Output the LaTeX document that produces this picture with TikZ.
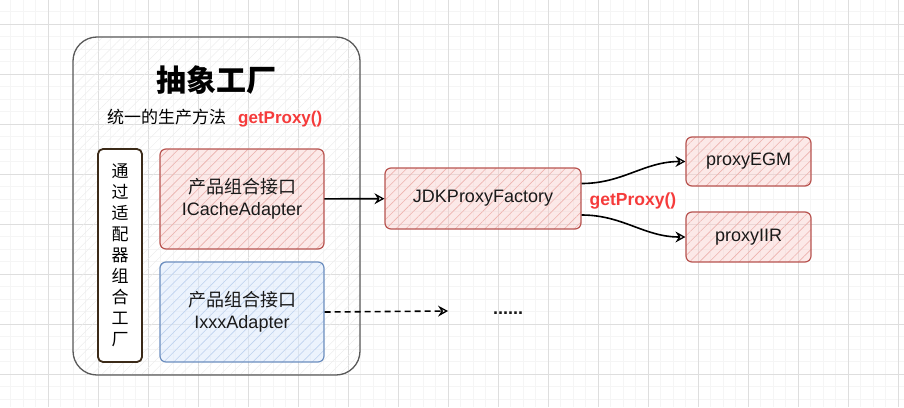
\documentclass[tikz,border=0pt]{standalone}
\usepackage{fontspec}
\setmainfont{Liberation Sans}
\newfontfamily\cjk{Noto Sans CJK SC}
\usetikzlibrary{arrows.meta,patterns.meta}
\definecolor{redline}{HTML}{B85450}
\definecolor{redfill}{HTML}{F8CECC}
\definecolor{redhatch}{HTML}{EDB2AE}
\definecolor{blueline}{HTML}{6C8EBF}
\definecolor{bluefill}{HTML}{DAE8FC}
\definecolor{bluehatch}{HTML}{BFD3F0}
\definecolor{brownline}{HTML}{3B2A18}
\definecolor{proxyred}{HTML}{F53B3B}

\begin{document}
\begin{tikzpicture}[x=1pt,y=-1pt,
    minorgrid/.style={draw=black!4,line width=0.7pt},
    majorgrid/.style={draw=black!13,line width=0.8pt},
    boxtext/.style={font=\fontsize{18}{22}\selectfont,align=center,text=black!90},
    hatchbox/.style={boxtext,rounded corners=6pt,line width=1.2pt,inner sep=0pt},
    redbox/.style={hatchbox,draw=redline,preaction={fill=redfill,fill opacity=0.45},
      pattern={Lines[angle=45,distance=7pt,line width=0.6pt]},pattern color=redhatch},
    bluebox/.style={hatchbox,draw=blueline,preaction={fill=bluefill,fill opacity=0.5},
      pattern={Lines[angle=45,distance=7pt,line width=0.6pt]},pattern color=bluehatch},
    tip/.style={-{Stealth[open,length=10pt,width=11pt,inset=3.5pt,line width=1.3pt]},line width=1.6pt}]
  \useasboundingbox (0,0) rectangle (904,407);
  % grid
  \foreach \i in {0,...,73}
    \draw[minorgrid] ({-2+12.5*\i},0) -- ({-2+12.5*\i},407);
  \foreach \i in {0,...,33}
    \draw[minorgrid] (0,{-1+12.5*\i}) -- (904,{-1+12.5*\i});
  \foreach \i in {0,...,18}
    \draw[majorgrid] ({-2+50*\i},0) -- ({-2+50*\i},407);
  \foreach \i in {0,...,8}
    \draw[majorgrid] (0,{24+50*\i}) -- (904,{24+50*\i});

  \draw
    (216.5,206) node[draw=black!65,line width=1.3pt,rounded corners=24pt,
      minimum width=287pt,minimum height=338pt,
      pattern={Lines[angle=45,distance=7pt,line width=0.5pt]},pattern color=black!7] (factory){}
    (216,80) node[font=\cjk\bfseries\fontsize{30}{34}\selectfont] (title){抽象工厂}
    (107,118) node[anchor=west,inner sep=0pt,font=\fontsize{17}{20}\selectfont] (method)
      {{\cjk 统一的生产方法}\hspace{12pt}\textcolor{proxyred}{\bfseries getProxy()}}
    (120,255.5) node[draw=brownline,fill=white,line width=1.8pt,rounded corners=5pt,
      minimum width=44pt,minimum height=213pt,align=center,
      font=\cjk\fontsize{17}{21}\selectfont] (combine)
      {通\\过\\适\\配\\器\\组\\合\\工\\厂}
    (242,199) node[redbox,minimum width=164pt,minimum height=100pt] (icache)
      {{\cjk 产品组合接口}\\ICacheAdapter}
    (242,312) node[bluebox,minimum width=164pt,minimum height=100pt] (ixxx)
      {{\cjk 产品组合接口}\\IxxxAdapter}
    (483,198.5) node[redbox,minimum width=196pt,minimum height=61pt] (jdk){JDKProxyFactory}
    (748.5,161.5) node[redbox,minimum width=125pt,minimum height=49pt] (egm){proxyEGM}
    (748.5,237) node[redbox,minimum width=125pt,minimum height=50pt] (iir){proxyIIR}
    (633,201) node[font=\bfseries\fontsize{17.5}{20}\selectfont,text=proxyred] (getproxy){getProxy()}
    (508,313) node[boxtext,font=\bfseries\fontsize{18}{22}\selectfont] (dots){......};
  \coordinate (more) at (448,311);
  \begin{scope}[tip]
    \draw (icache) -- (jdk);
    \draw ([yshift=15pt]jdk.east) to[out=0,in=180] (egm.west);
    \draw ([yshift=-16.5pt]jdk.east) to[out=0,in=180] (iir.west);
    \draw[dash pattern=on 6pt off 4pt] (ixxx.east) -- (more);
  \end{scope}
\end{tikzpicture}
\end{document}
